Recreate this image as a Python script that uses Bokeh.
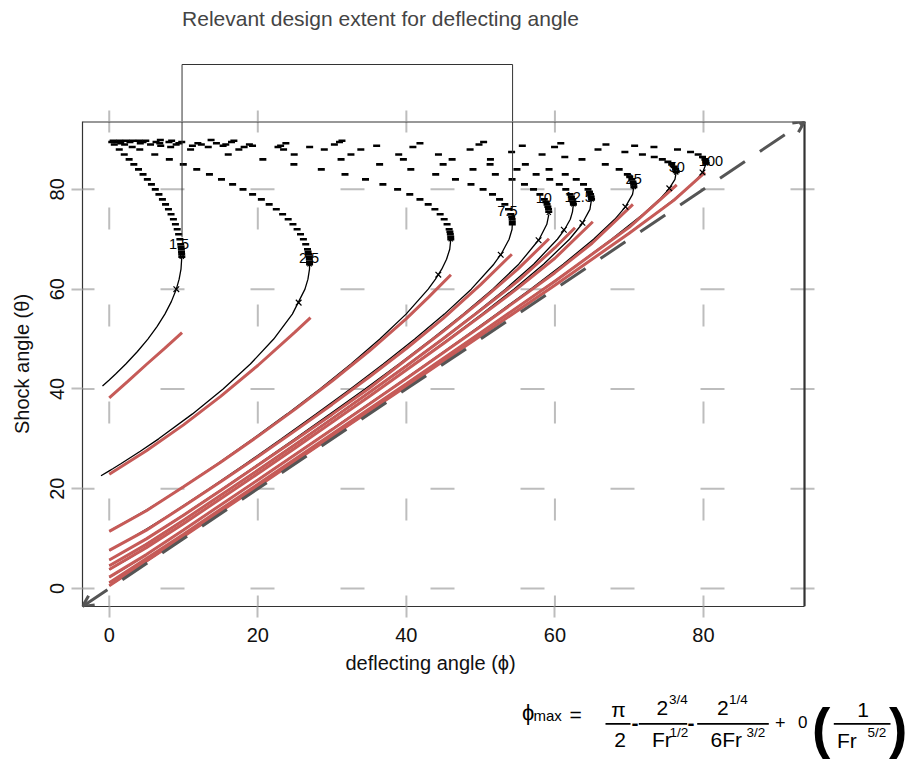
from bokeh.plotting import figure
from bokeh.models import Range1d, FixedTicker, Arrow, OpenHead, Title
from bokeh.layouts import column
from bokeh.embed import file_html
from bokeh.resources import INLINE
from bokeh.core.properties import value

FONT = "Liberation Sans"

# ---------------- data (degrees) ----------------
axis_range = [-3.6, 93.6]          # extent of the plotting box on both axes
view_x = [-3.6, 107.6]             # drawing width also spans the formula strip on the right
tick_values = [0, 20, 40, 60, 80]
fr_values = [1.5, 2.5, 5, 7.5, 10, 12.5, 15, 25, 50, 100]

# weak branch (solid black): shock angle theta, deflecting angle phi
weak_theta_1p5 = [40.6, 41.81, 43, 45, 47.5, 50, 52.5, 55, 57.5, 60, 62, 64, 66.5]
weak_phi_1p5 = [-0.91, 0, 0.86, 2.23, 3.80, 5.20, 6.43, 7.49, 8.36, 9.03, 9.41, 9.66, 9.77]
weak_theta_2p5 = [22.6, 23.58, 24, 25, 27.5, 30, 35, 40, 45, 50, 55, 60, 62, 64, 65]
weak_phi_2p5 = [-1.11, 0, 0.47, 1.56, 4.18, 6.65, 11.21, 15.33, 19.0, 22.14, 24.65, 26.35, 26.75, 26.96, 26.97]
weak_theta_5 = [11.54, 12, 14, 16, 18, 20, 25, 30, 35, 40, 45, 50, 55, 60, 62, 64, 66, 68, 70]
weak_phi_5 = [0, 0.59, 3.0, 5.26, 7.43, 9.53, 14.56, 19.35, 23.95, 28.36, 32.54, 36.43, 39.96, 42.94, 43.92, 44.76, 45.41, 45.84, 45.98]
weak_theta_7p5 = [7.66, 8, 10, 12, 15, 20, 25, 30, 35, 40, 45, 50, 55, 60, 65, 67, 70, 72, 73]
weak_phi_7p5 = [0, 0.44, 2.86, 5.12, 8.33, 13.43, 18.37, 23.18, 27.88, 32.46, 36.89, 41.13, 45.12, 48.74, 51.77, 52.75, 53.83, 54.23, 54.26]
weak_theta_10 = [5.74, 6, 8, 10, 12, 15, 20, 25, 30, 35, 40, 45, 50, 55, 60, 65, 70, 73, 75]
weak_phi_10 = [0, 0.34, 2.75, 4.98, 7.11, 10.20, 15.23, 20.15, 24.99, 29.75, 34.43, 39.00, 43.43, 47.67, 51.62, 55.13, 57.88, 58.91, 59.18]
weak_theta_12p5 = [4.59, 5, 7, 10, 15, 20, 25, 30, 35, 40, 45, 50, 55, 60, 65, 70, 72, 74, 75.5, 77]
weak_phi_12p5 = [0, 0.53, 2.90, 6.13, 11.26, 16.26, 21.18, 26.05, 30.85, 35.59, 40.24, 44.78, 49.17, 53.33, 57.14, 60.33, 61.32, 62.07, 62.36, 62.49]
weak_theta_15 = [3.82, 4, 6, 10, 15, 20, 25, 30, 35, 40, 45, 50, 55, 60, 65, 70, 73, 76, 78]
weak_phi_15 = [0, 0.23, 2.61, 6.86, 11.94, 16.92, 21.85, 26.74, 31.57, 36.35, 41.06, 45.68, 50.17, 54.47, 58.47, 61.96, 63.62, 64.71, 64.93]
weak_theta_25 = [2.29, 2.5, 4, 6, 10, 15, 20, 25, 30, 35, 40, 45, 50, 55, 60, 65, 70, 74, 76.5, 79, 80.5]
weak_phi_25 = [0, 0.27, 2.01, 4.14, 8.22, 13.23, 18.20, 23.15, 28.08, 32.97, 37.84, 42.66, 47.44, 52.13, 56.71, 61.11, 65.20, 68.05, 69.49, 70.45, 70.63]
weak_theta_50 = [1.15, 1.5, 3, 5, 10, 15, 20, 25, 30, 35, 40, 45, 50, 55, 60, 65, 70, 75, 78, 80, 82, 83.5]
weak_phi_50 = [0, 0.44, 2.07, 4.12, 9.14, 14.14, 19.12, 24.09, 29.05, 33.99, 38.93, 43.84, 48.73, 53.57, 58.37, 63.07, 67.61, 71.85, 74.08, 75.31, 76.16, 76.33]
weak_theta_100 = [0.573, 0.75, 1.5, 3, 5, 10, 15, 20, 25, 30, 35, 40, 45, 50, 55, 60, 65, 70, 75, 78, 80, 82, 83.5, 85.2]
weak_phi_100 = [0, 0.22, 1.04, 2.57, 4.58, 9.58, 14.57, 19.56, 24.55, 29.53, 34.50, 39.47, 44.42, 49.37, 54.29, 59.19, 64.04, 68.81, 73.43, 76.04, 77.66, 79.08, 79.91, 80.36]

# strong branch (dash markers)
strong_theta_1p5 = [66.5, 67, 67.5, 68, 68.5, 69, 70, 71, 72, 73, 74, 75, 76, 77, 78, 79, 80, 81, 82, 83, 84, 85, 86, 87, 88, 89, 89.5]
strong_phi_1p5 = [9.77, 9.75, 9.73, 9.71, 9.67, 9.62, 9.51, 9.34, 9.15, 8.91, 8.64, 8.32, 7.97, 7.58, 7.16, 6.69, 6.20, 5.68, 5.13, 4.55, 3.94, 3.31, 2.68, 2.02, 1.35, 0.68, 0.34]
strong_theta_2p5 = [65, 65.5, 66, 66.5, 67, 67.5, 68, 69, 70, 71, 72, 73, 74, 75, 76, 77, 78, 79, 80, 81, 82, 83, 84, 85, 86, 87, 88, 88.5, 89, 89.25, 89.5, 89.75]
strong_phi_2p5 = [26.97, 26.96, 26.94, 26.90, 26.83, 26.77, 26.69, 26.45, 26.14, 25.75, 25.29, 24.73, 24.09, 23.34, 22.49, 21.53, 20.48, 19.30, 18.01, 16.61, 15.11, 13.49, 11.78, 9.97, 8.09, 6.13, 4.11, 3.09, 2.07, 1.55, 1.03, 0.52]
strong_theta_5 = [70, 70.5, 71, 71.5, 72, 73, 74, 75, 76, 77, 78, 79, 80, 81, 82, 83, 84, 85, 86, 87, 88, 88.5, 88.75, 89, 89.25, 89.5, 89.75]
strong_phi_5 = [45.98, 45.97, 45.92, 45.86, 45.76, 45.48, 45.09, 44.55, 43.84, 42.94, 41.83, 40.46, 38.82, 36.84, 34.50, 31.74, 28.55, 24.86, 20.68, 16.02, 10.95, 8.27, 6.93, 5.56, 4.18, 2.79, 1.40]
strong_theta_7p5 = [73, 73.5, 74, 74.5, 75, 76, 77, 78, 79, 80, 81, 82, 83, 84, 85, 86, 87, 88, 88.5, 88.75, 89, 89.25, 89.5, 89.75]
strong_phi_7p5 = [54.26, 54.26, 54.24, 54.18, 54.07, 53.75, 53.26, 52.55, 51.60, 50.33, 48.70, 46.61, 43.95, 40.60, 36.40, 31.21, 24.90, 17.45, 13.33, 11.2, 9.01, 6.80, 4.55, 2.28]
strong_theta_10 = [75.5, 76, 76.5, 77, 77.5, 78, 79, 80, 81, 82, 83, 84, 85, 86, 87, 88, 88.5, 88.75, 89, 89.25, 89.5, 89.75]
strong_phi_10 = [59.17, 59.14, 59.05, 58.94, 58.78, 58.57, 57.98, 57.12, 55.90, 54.23, 51.98, 48.97, 44.95, 39.60, 32.54, 23.47, 18.16, 15.33, 12.40, 9.38, 6.30, 3.16]
strong_theta_12p5 = [77, 77.5, 78, 78.5, 79, 80, 81, 82, 83, 84, 85, 86, 87, 88, 88.5, 88.75, 89, 89.25, 89.5, 89.75]
strong_phi_12p5 = [62.49, 62.44, 62.35, 62.22, 62.04, 61.46, 60.59, 59.30, 57.47, 54.89, 51.27, 46.16, 38.97, 28.95, 22.72, 19.29, 15.69, 11.93, 8.04, 4.04]
strong_theta_15 = [78, 78.5, 79, 79.5, 80, 81, 82, 83, 84, 85, 86, 87, 88, 88.5, 88.75, 89, 89.25, 89.5, 89.75]
strong_phi_15 = [64.93, 64.88, 64.80, 64.65, 64.46, 63.85, 62.87, 61.39, 59.21, 56.02, 51.32, 44.32, 33.87, 26.98, 23.07, 18.87, 14.43, 9.76, 4.92]
strong_theta_25 = [80.5, 81, 81.5, 82, 82.5, 83, 84, 85, 86, 86.5, 87, 87.5, 88, 88.5, 88.75, 89, 89.25, 89.5, 89.75]
strong_phi_25 = [70.63, 70.60, 70.50, 70.35, 70.07, 69.75, 68.65, 66.78, 63.64, 61.33, 58.27, 54.17, 48.58, 40.88, 36.0, 30.31, 23.78, 16.46, 8.40]
strong_theta_50 = [83.5, 84, 84.5, 85, 85.5, 86, 86.5, 87, 87.5, 88, 88.5, 88.75, 89, 89.25, 89.5, 89.75, 89.9]
strong_phi_50 = [76.33, 76.24, 76.05, 75.72, 75.21, 74.46, 73.37, 71.78, 69.42, 65.80, 59.95, 55.61, 49.78, 41.83, 31.0, 16.78, 6.88]
strong_theta_100 = [85.2, 85.6, 86, 86.5, 87, 87.5, 88, 88.5, 88.75, 89, 89.25, 89.5, 89.75, 89.9]
strong_phi_100 = [80.36, 80.31, 80.19, 79.87, 79.28, 78.26, 76.5, 73.33, 70.73, 66.87, 60.79, 50.4, 31.33, 13.71]

# approximation curves (red)
red_phi_1p5 = [0, 2.5, 5, 7.5, 9.8]
red_theta_1p5 = [38.2, 41.5, 44.9, 48.2, 51.3]
red_phi_2p5 = [0, 5, 10, 15, 20, 25, 27.1]
red_theta_2p5 = [22.9, 27.6, 32.8, 38.5, 44.7, 51.4, 54.3]
red_phi_5 = [0, 5, 10, 15, 20, 25, 30, 35, 40, 43, 46]
red_theta_5 = [11.46, 15.6, 20.4, 25.3, 30.5, 35.9, 41.6, 47.6, 54.1, 58.4, 62.9]
red_phi_7p5 = [0, 5, 10, 15, 20, 25, 30, 35, 40, 45, 50, 54.2]
red_theta_7p5 = [7.64, 11.7, 16.5, 21.4, 26.4, 31.6, 36.9, 42.4, 48.1, 54.2, 60.9, 67.0]
red_phi_10 = [0, 5, 10, 15, 20, 25, 30, 35, 40, 45, 50, 55, 59.2]
red_theta_10 = [5.73, 9.95, 14.7, 19.65, 24.7, 29.75, 34.9, 40.15, 45.9, 51.6, 57.6, 64.0, 70.1]
red_phi_12p5 = [0, 5, 10, 15, 20, 25, 30, 35, 40, 45, 50, 55, 60, 62.7]
red_theta_12p5 = [4.58, 8.85, 13.7, 18.7, 23.7, 28.8, 34.0, 39.3, 44.6, 50.1, 55.8, 61.6, 68.3, 72.3]
red_phi_15 = [0, 5, 10, 15, 20, 25, 30, 35, 40, 45, 50, 55, 60, 65.1]
red_theta_15 = [3.82, 8.2, 13.0, 18.0, 23.0, 28.1, 33.3, 38.5, 43.8, 49.1, 54.6, 60.2, 66.2, 73.5]
red_phi_25 = [0, 5, 10, 20, 30, 40, 50, 60, 65, 70.5]
red_theta_25 = [2.29, 6.8, 11.75, 21.75, 31.85, 42.1, 52.5, 63.3, 69.2, 77.0]
red_phi_50 = [0, 10, 20, 30, 40, 50, 60, 70, 76.4]
red_theta_50 = [1.15, 10.9, 20.9, 30.95, 41.05, 51.25, 61.6, 72.4, 80.9]
red_phi_100 = [0, 10, 20, 30, 40, 50, 60, 70, 76, 80.2]
red_theta_100 = [0.57, 10.45, 20.45, 30.5, 40.55, 50.65, 60.8, 71.2, 77.8, 83.4]

# cross markers on the solid curves
cross_phi = [9.03, 25.5, 44.3, 52.7, 57.8, 61.2, 63.7, 69.49, 75.4, 79.87]
cross_theta = [60.0, 57.3, 62.9, 66.9, 69.8, 71.9, 73.3, 76.5, 80.2, 83.4]
max_phi = [9.77, 26.97, 45.98, 54.26, 59.18, 62.49, 64.93, 70.63, 76.33, 80.36]
max_theta = [66.5, 65, 70, 73.3, 75.3, 77, 78, 80.5, 83.4, 85.2]

# curve labels
label_text = ["1.5", "2.5", "7.5", "10", "12.5", "25", "50", "100"]
label_phi = [9.4, 26.9, 53.6, 58.5, 63.2, 70.6, 76.4, 81.0]
label_theta = [69.1, 66.2, 75.7, 78.3, 78.5, 82.0, 84.5, 85.7]

# design extent bracket
design_phi = [9.8, 54.3]
design_theta_low = [70.4, 75.7]
title_text = "Relevant design extent for deflecting angle"
x_label = "deflecting angle (ϕ)"
y_label = "Shock angle (θ)"

weak_theta = [weak_theta_1p5, weak_theta_2p5, weak_theta_5, weak_theta_7p5, weak_theta_10,
              weak_theta_12p5, weak_theta_15, weak_theta_25, weak_theta_50, weak_theta_100]
weak_phi = [weak_phi_1p5, weak_phi_2p5, weak_phi_5, weak_phi_7p5, weak_phi_10,
            weak_phi_12p5, weak_phi_15, weak_phi_25, weak_phi_50, weak_phi_100]
strong_theta = [strong_theta_1p5, strong_theta_2p5, strong_theta_5, strong_theta_7p5, strong_theta_10,
                strong_theta_12p5, strong_theta_15, strong_theta_25, strong_theta_50, strong_theta_100]
strong_phi = [strong_phi_1p5, strong_phi_2p5, strong_phi_5, strong_phi_7p5, strong_phi_10,
              strong_phi_12p5, strong_phi_15, strong_phi_25, strong_phi_50, strong_phi_100]
red_phi = [red_phi_1p5, red_phi_2p5, red_phi_5, red_phi_7p5, red_phi_10,
           red_phi_12p5, red_phi_15, red_phi_25, red_phi_50, red_phi_100]
red_theta = [red_theta_1p5, red_theta_2p5, red_theta_5, red_theta_7p5, red_theta_10,
             red_theta_12p5, red_theta_15, red_theta_25, red_theta_50, red_theta_100]

# ---------------- layout constants ----------------
W = 910
BL, BR = 82, 2
TOP_H = 121
MAIN_H = 565
MAIN_B = 80
BOT_H = 74
GRID = "#bdbdbd"
BOX = "#333333"
RED = "#c65b58"
OVER = 1.5   # grid overshoot beyond the box (data units, ~11px)

# ---------------- top strip (title + bracket) ----------------
top = figure(width=W, height=TOP_H, x_range=Range1d(*view_x), y_range=Range1d(TOP_H, 0),
             x_axis_location=None, y_axis_location=None, output_backend="svg",
             toolbar_location=None, min_border_left=BL, min_border_right=BR,
             min_border_top=0, min_border_bottom=0)
top.grid.visible = False
top.outline_line_color = None
top.text(x=[design_phi[0]], y=[17.7], text=[title_text], text_font=value(FONT),
         text_font_size="21px", text_color="#444444", text_align="left",
         text_baseline="middle")
top.line(x=[design_phi[0], design_phi[0], design_phi[1], design_phi[1]],
         y=[TOP_H, 64, 64, TOP_H], line_color=BOX, line_width=1)
top.segment(x0=tick_values, y0=[TOP_H] * 5, x1=tick_values, y1=[TOP_H - 11] * 5,
            line_color=GRID, line_width=2)

# ---------------- main plot ----------------
p = figure(width=W, height=MAIN_H, x_range=Range1d(*view_x), y_range=Range1d(*axis_range),
           output_backend="svg", toolbar_location=None,
           min_border_left=BL, min_border_right=BR, min_border_top=0, min_border_bottom=MAIN_B)
p.outline_line_color = None
p.grid.visible = False
p.yaxis.axis_label = y_label
for ax in (p.xaxis[0], p.yaxis[0]):
    ax.ticker = FixedTicker(ticks=tick_values)
    ax.bounds = tuple(axis_range)
    ax.major_tick_out = 11
    ax.major_tick_in = 0
    ax.minor_tick_line_color = None
    ax.major_tick_line_color = GRID
    ax.major_tick_line_width = 2
    ax.axis_line_color = BOX
    ax.axis_line_width = 1.2
    ax.major_label_text_font = FONT
    ax.major_label_text_font_size = "20px"
    ax.major_label_text_color = "#111111"
    ax.axis_label_text_font = FONT
    ax.axis_label_text_font_size = "20px"
    ax.axis_label_text_font_style = "normal"
    ax.axis_label_text_color = "#111111"
p.xaxis.major_label_standoff = 10
p.yaxis.major_label_orientation = "vertical"
p.yaxis.major_label_standoff = 7
p.yaxis.axis_label_standoff = 15

p.add_layout(Title(text=x_label, align="left", offset=263, standoff=10,
                   text_font=FONT, text_font_size="20px", text_font_style="normal",
                   text_color="#111111"), "below")

# dashed grid lines (drawn from the tick values, slightly beyond the box like the original)
n = len(tick_values)
p.segment(x0=tick_values, y0=[axis_range[0]] * n, x1=tick_values, y1=[axis_range[1]] * n,
          line_color=GRID, line_width=2, line_dash="22 75", line_dash_offset=11)
p.segment(x0=[axis_range[0]] * n, y0=tick_values, x1=[axis_range[1] + OVER] * n, y1=tick_values,
          line_color=GRID, line_width=2, line_dash="24 66", line_dash_offset=12)

# box: top and right edges (left/bottom are the axis lines)
p.line(x=[axis_range[0], axis_range[1], axis_range[1]],
       y=[axis_range[1], axis_range[1], axis_range[0]], line_color=BOX, line_width=2.2)

arrow = Arrow(start=OpenHead(size=11, line_color="#555555", line_width=3),
              end=OpenHead(size=11, line_color="#555555", line_width=3),
              x_start=axis_range[0], y_start=axis_range[0],
              x_end=axis_range[1], y_end=axis_range[1],
              line_color="#555555", line_width=3, line_dash="30 18")
p.add_layout(arrow)

for wp, wt in zip(weak_phi, weak_theta):
    p.line(wp, wt, line_color="black", line_width=1.3)
for sp, st in zip(strong_phi, strong_theta):
    p.scatter(sp, st, marker="dash", size=7, line_color="black", line_width=2.6)
for rp, rt in zip(red_phi, red_theta):
    p.line(rp, rt, line_color=RED, line_width=3)
p.scatter(cross_phi, cross_theta, marker="x", size=8, line_color="black", line_width=1.2)
p.scatter(max_phi, max_theta, marker="x", size=6, line_color="black", line_width=1.2)
p.segment(x0=design_phi, y0=[axis_range[1]] * 2, x1=design_phi, y1=design_theta_low,
          line_color=BOX, line_width=1)
p.text(label_phi, label_theta, text=label_text, text_font=value(FONT), text_font_size="14.5px",
       text_align="center", text_baseline="middle", text_color="black")

# ---------------- formula strip ----------------
Y0 = TOP_H + MAIN_H
bot = figure(width=W, height=BOT_H, x_range=Range1d(BL, W - BR), y_range=Range1d(Y0 + BOT_H, Y0),
             x_axis_location=None, y_axis_location=None, output_backend="svg",
             toolbar_location=None, min_border_left=BL, min_border_right=BR,
             min_border_top=0, min_border_bottom=0)
bot.grid.visible = False
bot.outline_line_color = None

f_text = ["ϕ", "max", "=", "π", "2", "-", "2", "3/4", "Fr", "1/2", "-", "2", "1/4",
          "6Fr", "3/2", "+", "0", "1", "Fr", "5/2"]
f_x = [521.5, 533, 569, 618, 619.5, 631, 656, 668.5, 651.5, 669, 687, 716.5, 728.5,
       710, 746, 774.5, 797.5, 862.5, 836.5, 867]
f_y = [711.9, 714.8, 713.7, 709.2, 739.2, 722.7, 707.2, 698.8, 739.2, 731.8, 722.7, 707.2, 698.8,
       739.2, 731.8, 721.5, 721.5, 709.2, 739.7, 731.8]
f_size = ["22px", "15px", "21px", "21px", "21px", "21px", "21px", "13.5px", "21px", "13.5px",
          "21px", "21px", "13.5px", "21px", "13.5px", "18px", "17px", "21px", "21px", "13.5px"]
f_align = ["left", "left", "left", "center", "center", "left", "left", "left", "left", "left",
           "left", "left", "left", "left", "left", "left", "left", "center", "left", "left"]
f_style = ["normal"] * 5 + ["bold"] + ["normal"] * 4 + ["bold"] + ["normal"] * 9
bot.text(x=f_x, y=f_y, text=f_text, text_font=value(FONT), text_font_size=f_size,
         text_align=f_align, text_baseline="middle", text_color="black",
         text_font_style=f_style)
bot.text(x=[811.5, 888.5], y=[727, 727], text=["(", ")"], text_font=value(FONT),
         text_font_size="55px", text_font_style="bold", text_align="left",
         text_baseline="middle", text_color="black")
bar_x0 = [605, 638.3, 696.7, 833.3]
bar_x1 = [630, 686.7, 768.3, 890]
bot.segment(x0=bar_x0, y0=[723.3] * 4, x1=bar_x1, y1=[723.3] * 4, line_color="black",
            line_width=1.8)

layout = column(top, p, bot, spacing=0)
open("out.html", "w").write(file_html(layout, INLINE))
